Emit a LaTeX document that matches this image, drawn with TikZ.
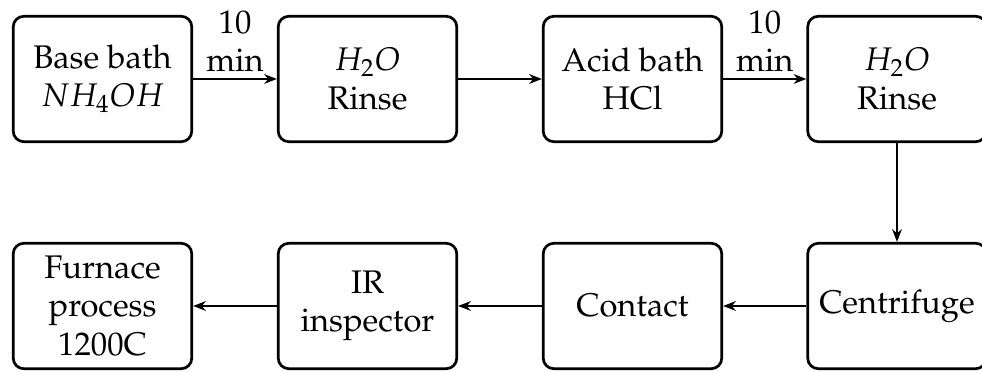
\documentclass[tikz,border=0pt]{standalone}
\usepackage[T1]{fontenc}
\usepackage{mathpazo}
\usetikzlibrary{arrows.meta}
\begin{document}
\begin{tikzpicture}[x=0.3333pt,y=-0.3333pt,
  every node/.style={font=\fontsize{10.9}{12.8}\selectfont},
  proc/.style={draw, line width=0.9pt, rounded corners=3.5pt, minimum width=59.5pt,
    minimum height=41.8pt, align=center, inner sep=1pt},
  flow/.style={line width=0.9pt, -{Stealth[length=4.2pt,width=3.2pt,inset=1.3pt]}},
  lbl/.style={above, align=center, inner sep=2pt}]
\useasboundingbox (0,0) rectangle (982,372);
\node[proc] (a) at (102.5,79) {Base bath\\$NH_4OH$};
\node[proc] (b) at (367.5,79) {$H_2O$\\Rinse};
\node[proc] (c) at (632.5,79) {Acid bath\\HCl};
\node[proc] (d) at (897,79) {$H_2O$\\Rinse};
\node[proc] (h) at (897,306) {Centrifuge};
\node[proc] (g) at (632.5,306) {Contact};
\node[proc] (f) at (367.5,306) {IR\\inspector};
\node[proc] (e) at (102.5,306) {Furnace\\process\\1200C};
\draw[flow] (a) -- node[lbl] {10\\min} (b);
\draw[flow] (b) -- (c);
\draw[flow] (c) -- node[lbl] {10\\min} (d);
\draw[flow] (d) -- (h);
\draw[flow] (h) -- (g);
\draw[flow] (g) -- (f);
\draw[flow] (f) -- (e);
\end{tikzpicture}
\end{document}
